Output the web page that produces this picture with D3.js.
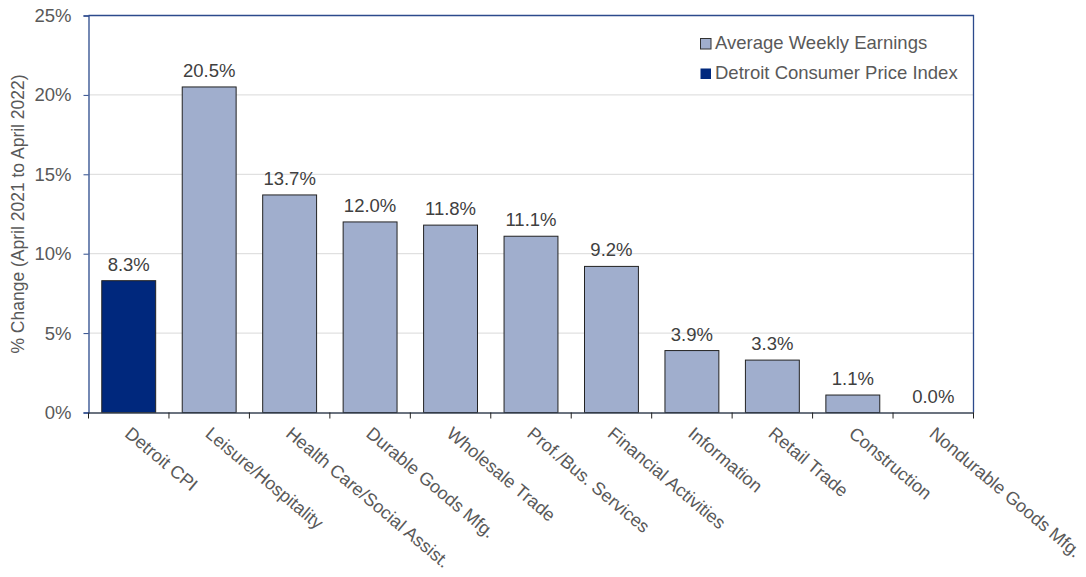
<!DOCTYPE html>
<html><head><meta charset="utf-8">
<script src="https://cdn.jsdelivr.net/npm/d3@7"></script>
<style>body{margin:0;background:#fff;} svg{display:block;}</style>
</head><body>
<svg id="chart" width="1086" height="577"></svg>
<script>
const categories = ["Detroit CPI","Leisure/Hospitality","Health Care/Social Assist.","Durable Goods Mfg.","Wholesale Trade","Prof./Bus. Services","Financial Activities","Information","Retail Trade","Construction","Nondurable Goods Mfg."];
const values = [8.3,20.5,13.7,12.0,11.8,11.1,9.2,3.9,3.3,1.1,0.0];
const seriesType = ["cpi","earn","earn","earn","earn","earn","earn","earn","earn","earn","earn"];
const yTicks = [0,5,10,15,20,25];
const legendItems = [{key:"earn",label:"Average Weekly Earnings"},{key:"cpi",label:"Detroit Consumer Price Index"}];

const colors = {earn:"#A0AECD", cpi:"#00287D"};
const font = "'Liberation Sans', Arial, sans-serif";
const textColor = "#595959";
const m = {left:88.5, top:15.5, right:973.5, bottom:412.5};

const svg = d3.select("#chart");
const x = d3.scaleBand().domain(categories).range([m.left, m.right]).paddingInner(0.33).paddingOuter(0.165);
const xb = d3.scaleBand().domain(categories).range([m.left, m.right]);
const y = d3.scaleLinear().domain([0,25]).range([m.bottom, m.top]);

// gridlines
svg.append("g").selectAll("line").data(yTicks.filter(d=>d>0 && d<25)).join("line")
  .attr("x1", m.left).attr("x2", m.right).attr("y1", d=>y(d)).attr("y2", d=>y(d))
  .attr("stroke","#D9D9D9").attr("stroke-width",1);

// border (top, right)
svg.append("path").attr("d",`M${m.left},${m.top}H${m.right}V${m.bottom}`)
  .attr("fill","none").attr("stroke","#2C4A8C").attr("stroke-width",1.3);

// bars
svg.append("g").selectAll("rect").data(categories).join("rect")
  .attr("x", d=>x(d)).attr("width", x.bandwidth())
  .attr("y", (d,i)=>y(values[i])).attr("height",(d,i)=>y(0)-y(values[i]))
  .attr("fill",(d,i)=>colors[seriesType[i]])
  .attr("stroke","#222").attr("stroke-width",1);

// value labels
svg.append("g").selectAll("text").data(categories).join("text")
  .attr("x", d=>x(d)+x.bandwidth()/2).attr("y",(d,i)=>y(values[i])-10)
  .attr("text-anchor","middle").attr("font-family",font).attr("font-size",18.5)
  .attr("fill","#404040").text((d,i)=>values[i].toFixed(1)+"%");

// y axis
const yAxis = svg.append("g").attr("transform",`translate(${m.left},0)`)
  .call(d3.axisLeft(y).tickValues(yTicks).tickFormat(d=>d+"%").tickSize(5).tickPadding(12));
yAxis.select(".domain").attr("stroke","#2C4A8C").attr("stroke-width",1.3);
yAxis.selectAll(".tick line").attr("stroke","#2C4A8C");
yAxis.selectAll("text").attr("font-family",font).attr("font-size",18.5).attr("fill",textColor);

// x axis
const xAxis = svg.append("g").attr("transform",`translate(0,${m.bottom})`)
  .call(d3.axisBottom(xb).tickSize(0).tickFormat(""));
xAxis.select(".domain").attr("stroke","#3A4455").attr("stroke-width",1.5);
xAxis.selectAll(".tick").remove();
svg.append("g").selectAll("line").data(categories.concat(["__end"])).join("line")
  .attr("x1",(d,i)=> i<categories.length ? xb(d) : m.right)
  .attr("x2",(d,i)=> i<categories.length ? xb(d) : m.right)
  .attr("y1",m.bottom).attr("y2",m.bottom+6).attr("stroke","#222").attr("stroke-width",1);

// category labels
svg.append("g").selectAll("text").data(categories).join("text")
  .attr("transform", d=>`translate(${xb(d)+xb.bandwidth()/2-5},${m.bottom+23}) rotate(40)`)
  .attr("text-anchor","start").attr("font-family",font).attr("font-size",18)
  .attr("fill",textColor).text(d=>d);

// y title
svg.append("text").attr("transform",`translate(24,${(m.top+m.bottom)/2}) rotate(-90)`)
  .attr("text-anchor","middle").attr("font-family",font).attr("font-size",17.5)
  .attr("fill",textColor).text("% Change (April 2021 to April 2022)");

// legend
const lg = svg.append("g").selectAll("g").data(legendItems).join("g")
  .attr("transform",(d,i)=>`translate(700,${38+i*30})`);
lg.append("rect").attr("width",10.5).attr("height",10.5).attr("x",0.5).attr("y",0.5)
  .attr("fill",d=>colors[d.key]).attr("stroke",d=>d.key==="earn"?"#333":"none").attr("stroke-width",1);
lg.append("text").attr("x",15).attr("y",11).attr("font-family",font).attr("font-size",18.5)
  .attr("fill",textColor).text(d=>d.label);
</script>
</body></html>
